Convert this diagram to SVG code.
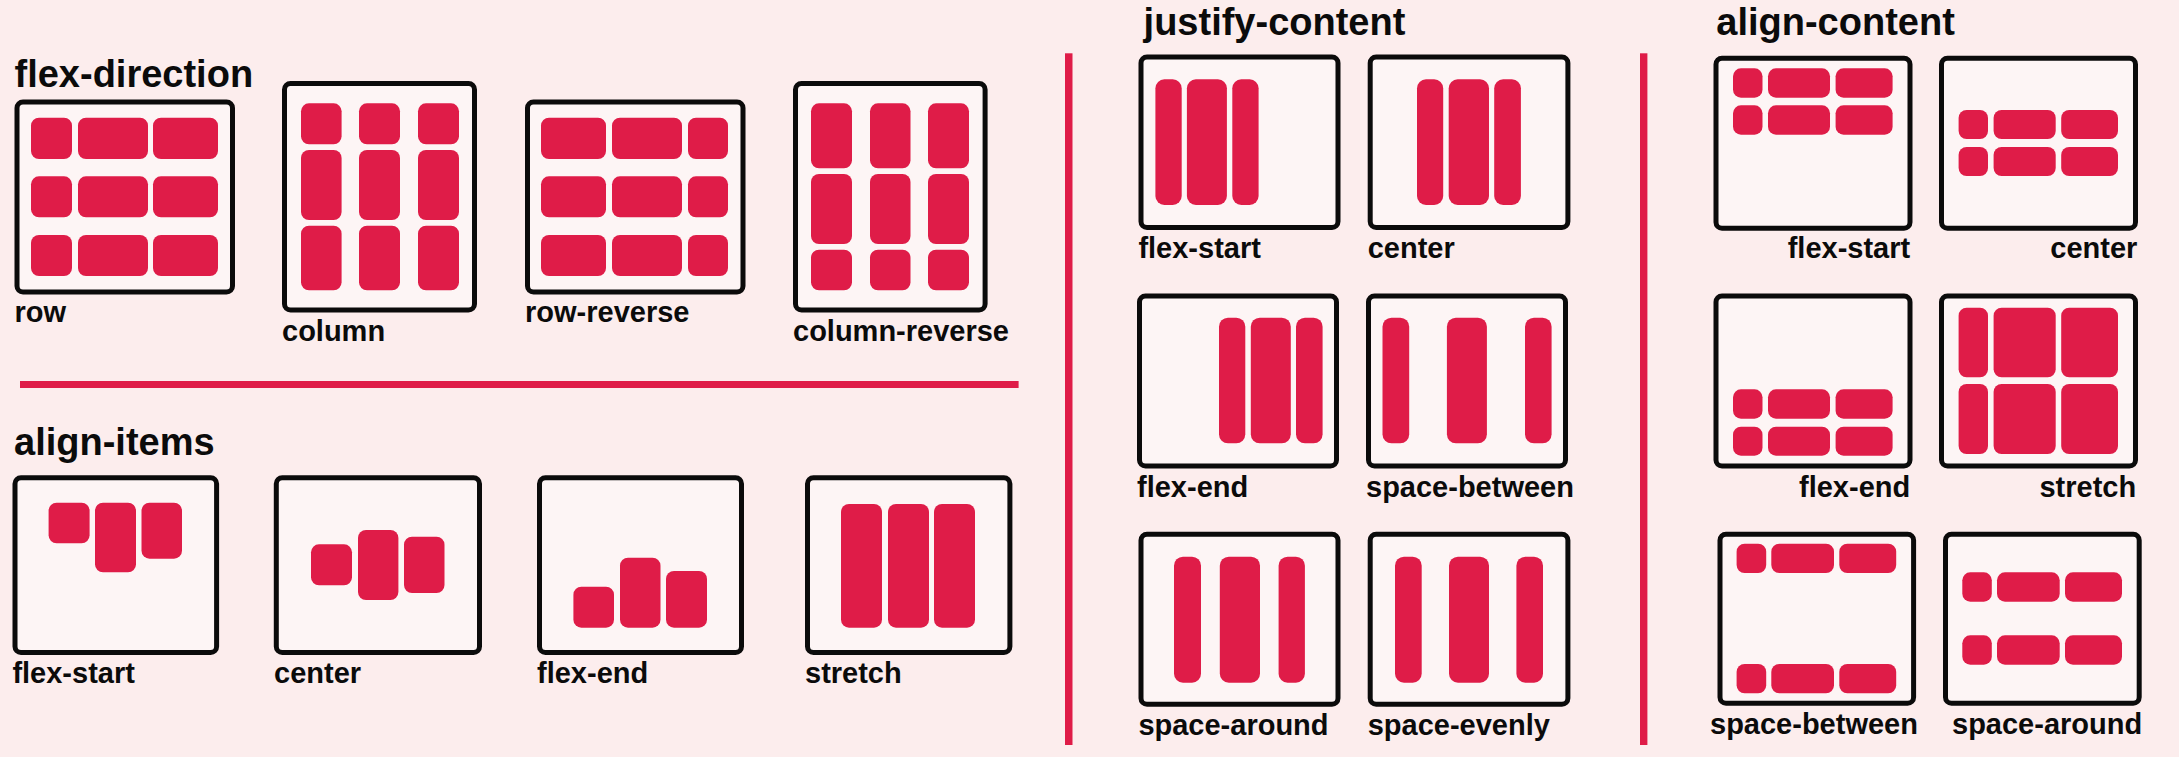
<svg xmlns="http://www.w3.org/2000/svg" width="2179" height="757" viewBox="0 0 2179 757">
<style>
.bg{fill:#FCEDED}
.box{fill:#FDF5F5;stroke:#0B0B0B;stroke-width:5}
.it{fill:#DF1C48}
.div{fill:#DF1C48}
.h{font-family:"Liberation Sans",Arial,sans-serif;font-weight:700;font-size:38px;fill:#0B0B0B}
.lb{font-family:"Liberation Sans",Arial,sans-serif;font-weight:700;font-size:29px;fill:#0B0B0B}
.e{text-anchor:end}
</style>
<rect class="bg" x="0" y="0" width="2179" height="757"/>

<g id="dividers">
<rect class="div" x="20" y="381" width="998.6" height="7"/>
<rect class="div" x="1065" y="53.3" width="7.5" height="691.7"/>
<rect class="div" x="1640" y="53.3" width="7.4" height="691.7"/>
</g>

<g id="headings">
<text class="h" x="14.5" y="87.3">flex-direction</text>
<text class="h" x="14" y="455">align-items</text>
<text class="h" x="1143.6" y="35">justify-content</text>
<text class="h" x="1716.3" y="35">align-content</text>
</g>

<!-- flex-direction -->
<g id="fd-row">
<rect class="box" x="17" y="102" width="215.5" height="190" rx="6"/>
<rect class="it" x="31" y="117.7" width="41" height="41.3" rx="8"/>
<rect class="it" x="78" y="117.7" width="70" height="41.3" rx="8"/>
<rect class="it" x="153" y="117.7" width="65" height="41.3" rx="8"/>
<rect class="it" x="31" y="176.3" width="41" height="41" rx="8"/>
<rect class="it" x="78" y="176.3" width="70" height="41" rx="8"/>
<rect class="it" x="153" y="176.3" width="65" height="41" rx="8"/>
<rect class="it" x="31" y="235" width="41" height="41" rx="8"/>
<rect class="it" x="78" y="235" width="70" height="41" rx="8"/>
<rect class="it" x="153" y="235" width="65" height="41" rx="8"/>
<text class="lb" x="14.5" y="322.3">row</text>
</g>
<g id="fd-column">
<rect class="box" x="284.5" y="83.5" width="190" height="226.5" rx="6"/>
<rect class="it" x="301" y="103.3" width="40.6" height="41" rx="8"/>
<rect class="it" x="359" y="103.3" width="41" height="41" rx="8"/>
<rect class="it" x="418" y="103.3" width="41" height="41" rx="8"/>
<rect class="it" x="301" y="150" width="40.6" height="70" rx="8"/>
<rect class="it" x="359" y="150" width="41" height="70" rx="8"/>
<rect class="it" x="418" y="150" width="41" height="70" rx="8"/>
<rect class="it" x="301" y="225.7" width="40.6" height="64.6" rx="8"/>
<rect class="it" x="359" y="225.7" width="41" height="64.6" rx="8"/>
<rect class="it" x="418" y="225.7" width="41" height="64.6" rx="8"/>
<text class="lb" x="282" y="340.7">column</text>
</g>
<g id="fd-row-reverse">
<rect class="box" x="527.5" y="102" width="215.5" height="190" rx="6"/>
<rect class="it" x="541" y="117.7" width="65" height="41.3" rx="8"/>
<rect class="it" x="612" y="117.7" width="70" height="41.3" rx="8"/>
<rect class="it" x="688" y="117.7" width="40" height="41.3" rx="8"/>
<rect class="it" x="541" y="176.3" width="65" height="41" rx="8"/>
<rect class="it" x="612" y="176.3" width="70" height="41" rx="8"/>
<rect class="it" x="688" y="176.3" width="40" height="41" rx="8"/>
<rect class="it" x="541" y="235" width="65" height="41" rx="8"/>
<rect class="it" x="612" y="235" width="70" height="41" rx="8"/>
<rect class="it" x="688" y="235" width="40" height="41" rx="8"/>
<text class="lb" x="525" y="322.3">row-reverse</text>
</g>
<g id="fd-column-reverse">
<rect class="box" x="795.5" y="83.5" width="189.6" height="226.5" rx="6"/>
<rect class="it" x="811" y="103.3" width="41" height="65" rx="8"/>
<rect class="it" x="870" y="103.3" width="40.5" height="65" rx="8"/>
<rect class="it" x="928" y="103.3" width="41" height="65" rx="8"/>
<rect class="it" x="811" y="174" width="41" height="70" rx="8"/>
<rect class="it" x="870" y="174" width="40.5" height="70" rx="8"/>
<rect class="it" x="928" y="174" width="41" height="70" rx="8"/>
<rect class="it" x="811" y="249.7" width="41" height="40.6" rx="8"/>
<rect class="it" x="870" y="249.7" width="40.5" height="40.6" rx="8"/>
<rect class="it" x="928" y="249.7" width="41" height="40.6" rx="8"/>
<text class="lb" x="793" y="340.7">column-reverse</text>
</g>

<!-- align-items -->
<g id="ai-flex-start">
<rect class="box" x="15" y="477.8" width="201.6" height="174.7" rx="6"/>
<rect class="it" x="48.6" y="502.7" width="41" height="40.6" rx="8"/>
<rect class="it" x="95" y="502.7" width="41" height="69.6" rx="8"/>
<rect class="it" x="141.5" y="502.7" width="40.5" height="56" rx="8"/>
<text class="lb" x="12.4" y="682.7">flex-start</text>
</g>
<g id="ai-center">
<rect class="box" x="276.3" y="477.8" width="203.2" height="174.7" rx="6"/>
<rect class="it" x="311" y="544.3" width="41" height="41" rx="8"/>
<rect class="it" x="358" y="530" width="40.4" height="70" rx="8"/>
<rect class="it" x="404" y="536.7" width="40.5" height="56.3" rx="8"/>
<text class="lb" x="274" y="682.7">center</text>
</g>
<g id="ai-flex-end">
<rect class="box" x="539.5" y="477.8" width="202" height="174.7" rx="6"/>
<rect class="it" x="573.4" y="586.7" width="40.6" height="41" rx="8"/>
<rect class="it" x="620" y="557.7" width="40.5" height="70" rx="8"/>
<rect class="it" x="666" y="571" width="41" height="56.7" rx="8"/>
<text class="lb" x="537" y="682.7">flex-end</text>
</g>
<g id="ai-stretch">
<rect class="box" x="807.5" y="477.8" width="202.4" height="174.7" rx="6"/>
<rect class="it" x="841" y="504" width="41" height="123.7" rx="8"/>
<rect class="it" x="888" y="504" width="41" height="123.7" rx="8"/>
<rect class="it" x="934" y="504" width="41" height="123.7" rx="8"/>
<text class="lb" x="805" y="682.7">stretch</text>
</g>

<!-- justify-content -->
<g id="jc-flex-start">
<rect class="box" x="1141" y="57" width="197" height="170.5" rx="6"/>
<rect class="it" x="1155.4" y="79.3" width="26.3" height="125.7" rx="9"/>
<rect class="it" x="1186.9" y="79.3" width="40" height="125.7" rx="9"/>
<rect class="it" x="1232.3" y="79.3" width="26.3" height="125.7" rx="9"/>
<text class="lb" x="1138.4" y="258.3">flex-start</text>
</g>
<g id="jc-center">
<rect class="box" x="1370.2" y="57" width="197.7" height="170.5" rx="6"/>
<rect class="it" x="1417" y="79.3" width="26.2" height="125.7" rx="9"/>
<rect class="it" x="1448.7" y="79.3" width="40.3" height="125.7" rx="9"/>
<rect class="it" x="1494.2" y="79.3" width="26.7" height="125.7" rx="9"/>
<text class="lb" x="1367.7" y="258.3">center</text>
</g>
<g id="jc-flex-end">
<rect class="box" x="1139.5" y="296" width="197" height="170" rx="6"/>
<rect class="it" x="1219" y="317.7" width="26.3" height="125.6" rx="9"/>
<rect class="it" x="1250.8" y="317.7" width="40" height="125.6" rx="9"/>
<rect class="it" x="1296" y="317.7" width="26.6" height="125.6" rx="9"/>
<text class="lb" x="1137" y="496.7">flex-end</text>
</g>
<g id="jc-space-between">
<rect class="box" x="1368.5" y="296" width="197" height="170" rx="6"/>
<rect class="it" x="1382.5" y="317.7" width="26.7" height="125.6" rx="9"/>
<rect class="it" x="1446.9" y="317.7" width="40" height="125.6" rx="9"/>
<rect class="it" x="1525" y="317.7" width="26.6" height="125.6" rx="9"/>
<text class="lb" x="1366" y="496.7">space-between</text>
</g>
<g id="jc-space-around">
<rect class="box" x="1141" y="534.2" width="197" height="170" rx="6"/>
<rect class="it" x="1174" y="556.7" width="27" height="126" rx="9"/>
<rect class="it" x="1219.8" y="556.7" width="40.2" height="126" rx="9"/>
<rect class="it" x="1278.6" y="556.7" width="26.3" height="126" rx="9"/>
<text class="lb" x="1138.4" y="735">space-around</text>
</g>
<g id="jc-space-evenly">
<rect class="box" x="1370.2" y="534.2" width="197.7" height="170" rx="6"/>
<rect class="it" x="1395" y="556.7" width="26.7" height="126" rx="9"/>
<rect class="it" x="1449" y="556.7" width="40" height="126" rx="9"/>
<rect class="it" x="1516.4" y="556.7" width="26.6" height="126" rx="9"/>
<text class="lb" x="1367.7" y="735">space-evenly</text>
</g>

<!-- align-content -->
<g id="ac-flex-start">
<rect class="box" x="1716" y="58.2" width="194" height="170" rx="6"/>
<rect class="it" x="1733" y="68.3" width="29.5" height="29.4" rx="8"/>
<rect class="it" x="1768" y="68.3" width="62" height="29.4" rx="8"/>
<rect class="it" x="1835.6" y="68.3" width="57" height="29.4" rx="8"/>
<rect class="it" x="1733" y="105.3" width="29.5" height="29.4" rx="8"/>
<rect class="it" x="1768" y="105.3" width="62" height="29.4" rx="8"/>
<rect class="it" x="1835.6" y="105.3" width="57" height="29.4" rx="8"/>
<text class="lb e" x="1910.2" y="258.3">flex-start</text>
</g>
<g id="ac-center">
<rect class="box" x="1941.5" y="58.2" width="194" height="170" rx="6"/>
<rect class="it" x="1958.6" y="110" width="29.4" height="29" rx="8"/>
<rect class="it" x="1993.6" y="110" width="62.1" height="29" rx="8"/>
<rect class="it" x="2061.2" y="110" width="56.8" height="29" rx="8"/>
<rect class="it" x="1958.6" y="147" width="29.4" height="29" rx="8"/>
<rect class="it" x="1993.6" y="147" width="62.1" height="29" rx="8"/>
<rect class="it" x="2061.2" y="147" width="56.8" height="29" rx="8"/>
<text class="lb e" x="2137.3" y="258.3">center</text>
</g>
<g id="ac-flex-end">
<rect class="box" x="1716" y="296" width="194" height="170" rx="6"/>
<rect class="it" x="1733" y="389.3" width="29.5" height="29.4" rx="8"/>
<rect class="it" x="1768" y="389.3" width="62" height="29.4" rx="8"/>
<rect class="it" x="1835.6" y="389.3" width="57" height="29.4" rx="8"/>
<rect class="it" x="1733" y="426.7" width="29.5" height="29" rx="8"/>
<rect class="it" x="1768" y="426.7" width="62" height="29" rx="8"/>
<rect class="it" x="1835.6" y="426.7" width="57" height="29" rx="8"/>
<text class="lb e" x="1910.2" y="496.7">flex-end</text>
</g>
<g id="ac-stretch">
<rect class="box" x="1941.5" y="296" width="194" height="170" rx="6"/>
<rect class="it" x="1958.6" y="307.7" width="29.4" height="69.6" rx="8"/>
<rect class="it" x="1993.6" y="307.7" width="62.1" height="69.6" rx="8"/>
<rect class="it" x="2061.2" y="307.7" width="56.8" height="69.6" rx="8"/>
<rect class="it" x="1958.6" y="384" width="29.4" height="70" rx="8"/>
<rect class="it" x="1993.6" y="384" width="62.1" height="70" rx="8"/>
<rect class="it" x="2061.2" y="384" width="56.8" height="70" rx="8"/>
<text class="lb e" x="2136.2" y="496.7">stretch</text>
</g>
<g id="ac-space-between">
<rect class="box" x="1720" y="534.2" width="193.6" height="169" rx="6"/>
<rect class="it" x="1736.6" y="543.7" width="29.6" height="29.3" rx="8"/>
<rect class="it" x="1771.3" y="543.7" width="62.7" height="29.3" rx="8"/>
<rect class="it" x="1839.3" y="543.7" width="56.9" height="29.3" rx="8"/>
<rect class="it" x="1736.6" y="664" width="29.6" height="29.3" rx="8"/>
<rect class="it" x="1771.3" y="664" width="62.7" height="29.3" rx="8"/>
<rect class="it" x="1839.3" y="664" width="56.9" height="29.3" rx="8"/>
<text class="lb" x="1710" y="734">space-between</text>
</g>
<g id="ac-space-around">
<rect class="box" x="1945.5" y="534.2" width="193.7" height="169" rx="6"/>
<rect class="it" x="1962.3" y="572.3" width="29.5" height="29.4" rx="8"/>
<rect class="it" x="1997" y="572.3" width="62.7" height="29.4" rx="8"/>
<rect class="it" x="2065" y="572.3" width="57" height="29.4" rx="8"/>
<rect class="it" x="1962.3" y="635.3" width="29.5" height="29.4" rx="8"/>
<rect class="it" x="1997" y="635.3" width="62.7" height="29.4" rx="8"/>
<rect class="it" x="2065" y="635.3" width="57" height="29.4" rx="8"/>
<text class="lb" x="1952" y="734">space-around</text>
</g>
</svg>
